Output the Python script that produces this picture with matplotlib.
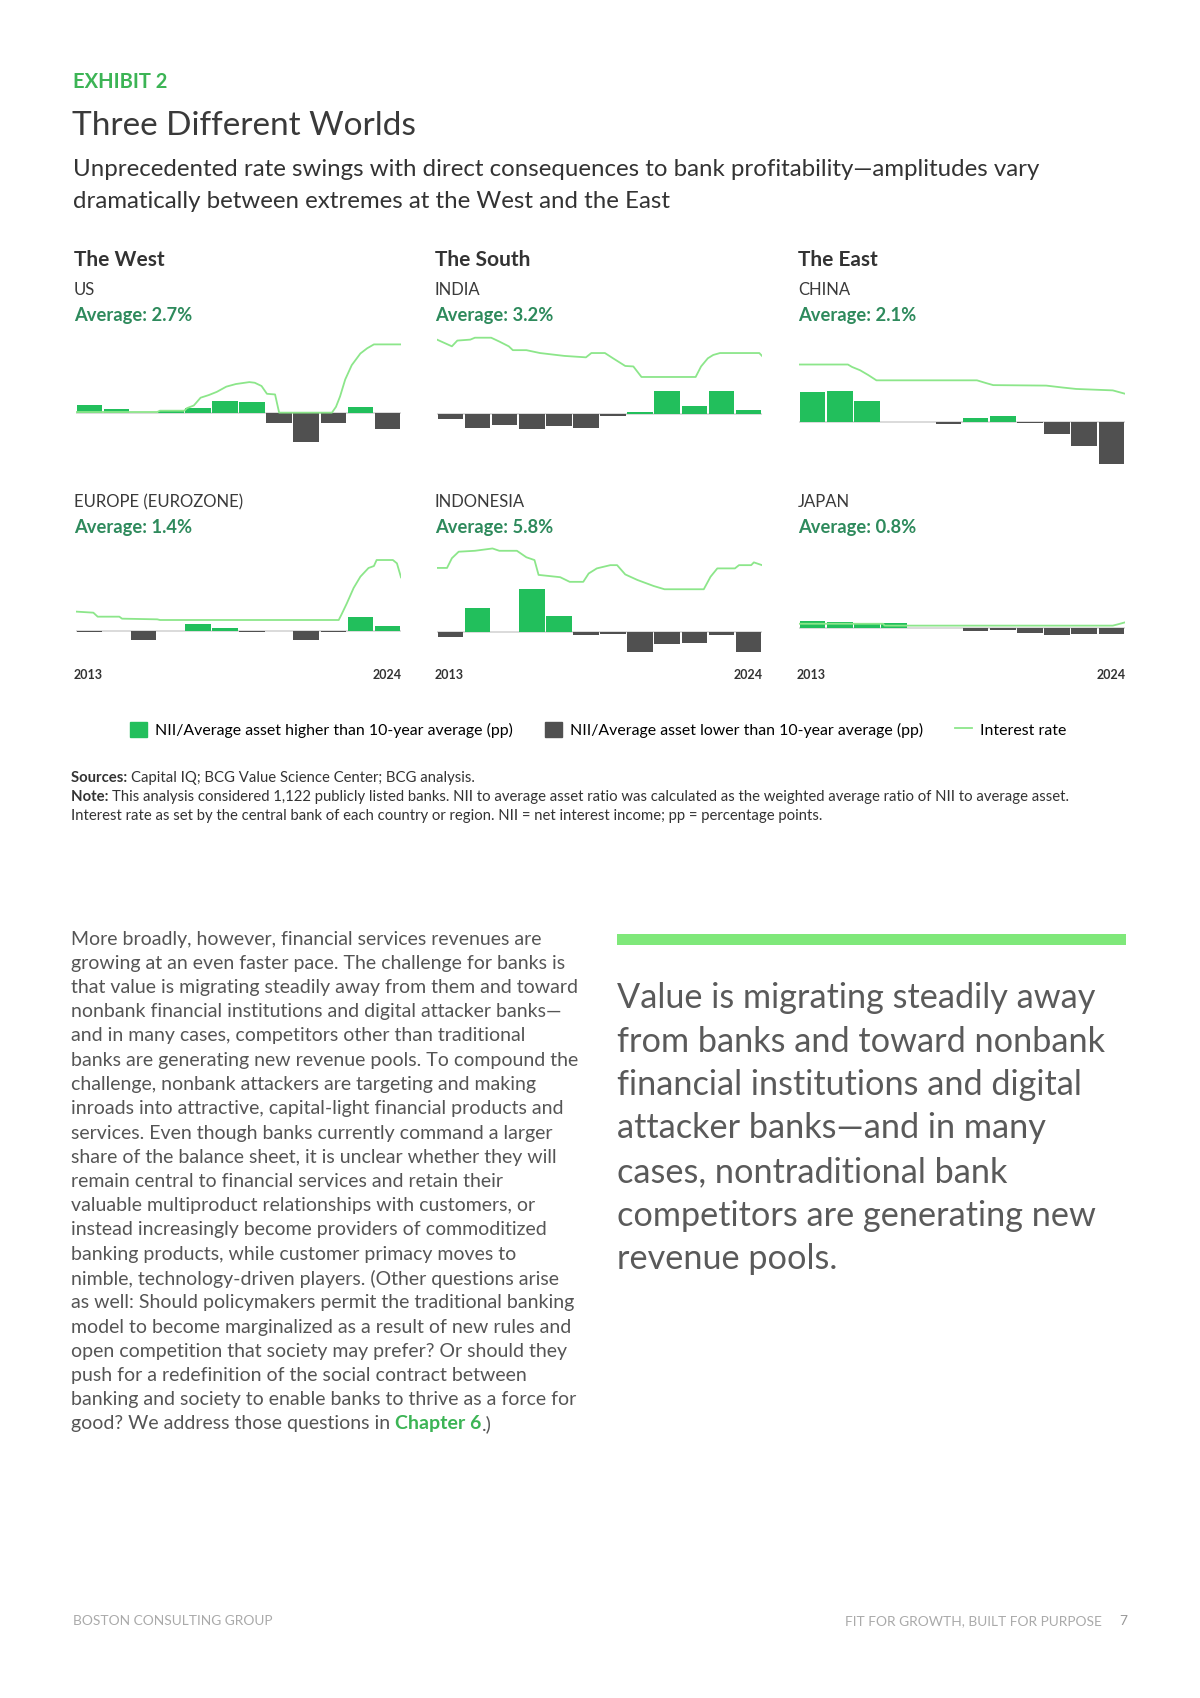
import numpy as np
import matplotlib
matplotlib.use('Agg')
import matplotlib.pyplot as plt
from matplotlib.patches import Patch
from matplotlib.lines import Line2D

plt.rcParams['font.family'] = ['Lato', 'DejaVu Sans']

W, H = 1200, 1698

GREEN_BAR = '#22bf5c'
DARK_BAR = '#505050'
RATE_LINE = '#8ce68a'
AVG_GREEN = '#2e8a5c'

years = np.arange(2013, 2025)

# NII/average asset minus 10-year average (pp), one bar per year
us_nii = [0.12, 0.07, 0.0, 0.04, 0.08, 0.18, 0.17, -0.14, -0.43, -0.15, 0.10, -0.24]
india_nii = [-0.07, -0.20, -0.16, -0.22, -0.17, -0.20, -0.03, 0.04, 0.35, 0.12, 0.35, 0.07]
china_nii = [0.45, 0.46, 0.31, 0.0, 0.0, -0.03, 0.05, 0.09, -0.02, -0.19, -0.36, -0.64]
europe_nii = [-0.02, 0.0, -0.14, 0.0, 0.10, 0.05, -0.02, 0.0, -0.13, -0.02, 0.21, 0.08]
indonesia_nii = [-0.085, 0.35, -0.01, 0.635, 0.24, -0.05, -0.04, -0.30, -0.19, -0.165, -0.055, -0.31]
japan_nii = [0.115, 0.09, 0.075, 0.075, 0.0, 0.0, -0.04, -0.03, -0.07, -0.10, -0.085, -0.085]

# policy rate (%), sampled at years since Jan 2013
us_rate_t = [0, 3.0, 3.1, 4.0, 4.1, 4.35, 4.6, 4.9, 5.2, 5.55, 5.9, 6.4, 6.6, 6.85, 7.05, 7.35, 7.5,
             9.45, 9.6, 9.75, 9.94, 10.18, 10.5, 10.75, 11.0, 12.0]
us_rate = [0.1, 0.1, 0.2, 0.2, 0.4, 0.6, 1.2, 1.4, 1.65, 2.05, 2.25, 2.4, 2.35, 2.1, 1.5, 1.45, 0.05,
           0.05, 0.5, 1.3, 2.6, 3.7, 4.6, 5.0, 5.3, 5.3]
india_rate_t = [0, 0.55, 0.75, 1.23, 1.4, 2.0, 2.3, 2.65, 2.8, 3.3, 3.8, 4.7, 5.5, 5.7, 6.2, 6.5, 6.95,
                7.25, 7.55, 9.55, 9.75, 10.0, 10.2, 10.45, 11.9, 12.0]
india_rate = [7.9, 7.2, 7.8, 7.9, 8.1, 8.1, 7.7, 7.2, 6.8, 6.8, 6.5, 6.2, 6.05, 6.5, 6.5, 5.95, 5.15,
              5.1, 4.0, 4.0, 5.1, 5.95, 6.3, 6.5, 6.5, 6.2]
china_rate_t = [0, 1.8, 1.95, 2.25, 2.55, 2.85, 6.55, 6.9, 7.15, 9.1, 9.7, 10.2, 11.55, 12.0]
china_rate = [6.0, 6.0, 5.75, 5.4, 4.9, 4.35, 4.35, 4.05, 3.85, 3.8, 3.6, 3.45, 3.3, 2.95]
europe_rate_t = [0, 0.64, 0.8, 1.6, 1.7, 3.0, 3.1, 9.7, 9.8, 10.0, 10.25, 10.5, 10.8, 11.0, 11.1,
                 11.7, 11.85, 12.0]
europe_rate = [0.63, 0.55, 0.25, 0.25, 0.1, 0.05, 0.0, 0.0, 0.4, 1.25, 2.4, 3.25, 3.9, 4.05, 4.5,
               4.5, 4.25, 3.2]
indonesia_rate_t = [0, 0.37, 0.55, 0.8, 1.4, 2.05, 2.3, 2.95, 3.3, 3.6, 3.75, 4.55, 4.9, 5.4, 5.6,
                    5.9, 6.4, 6.65, 6.95, 7.4, 8.0, 8.4, 9.85, 10.1, 10.35, 11.0, 11.15, 11.6, 11.7, 12.0]
indonesia_rate = [5.8, 5.8, 6.85, 7.55, 7.65, 7.9, 7.65, 7.65, 6.95, 6.65, 5.05, 4.8, 4.3, 4.3, 5.2,
                  5.75, 6.1, 6.1, 5.1, 4.5, 3.85, 3.5, 3.5, 4.85, 5.75, 5.75, 6.1, 6.1, 6.4, 6.1]
japan_rate_t = [0, 3.1, 3.15, 11.55, 11.75, 12.0]
japan_rate = [0.1, 0.1, -0.1, -0.1, 0.05, 0.25]

regions = ['The West', 'The South', 'The East']
countries = ['US', 'INDIA', 'CHINA', 'EUROPE (EUROZONE)', 'INDONESIA', 'JAPAN']
averages = ['Average: 2.7%', 'Average: 3.2%', 'Average: 2.1%',
            'Average: 1.4%', 'Average: 5.8%', 'Average: 0.8%']
nii_series = [us_nii, india_nii, china_nii, europe_nii, indonesia_nii, japan_nii]
rate_series = [(us_rate_t, us_rate), (india_rate_t, india_rate), (china_rate_t, china_rate),
               (europe_rate_t, europe_rate), (indonesia_rate_t, indonesia_rate),
               (japan_rate_t, japan_rate)]

# layout in pixels: chart x0, x1, top, bottom, bar baseline, rate zero, px per % of rate
BAR_PX = 66.7  # px per pp of NII
layout = [
    (76, 401, 325, 475, 413.3, 413.3, 13.0),
    (437, 762, 325, 475, 414.3, 415.3, 9.58),
    (799, 1125, 325, 475, 421.7, 422.0, 9.58),
    (76, 401, 535, 662, 631.0, 620.0, 13.33),
    (437, 762, 535, 662, 631.7, 621.7, 9.27),
    (799, 1125, 535, 662, 628.3, 624.7, 9.33),
]
label_x = [74, 435, 798, 74, 435, 798]

fig = plt.figure(figsize=(W / 100, H / 100), dpi=100)
fig.patch.set_facecolor('white')


def fx(x):
    return x / W


def fy(y):
    return 1 - y / H


def ftext(x, y, s, **kw):
    kw.setdefault('va', 'center')
    return fig.text(fx(x), fy(y), s, **kw)


# header
ftext(73, 82, 'EXHIBIT 2', fontsize=14.5, fontweight='bold', color='#3cb455')
ftext(72, 126, 'Three Different Worlds', fontsize=24, color='#3a3a3a')
ftext(73, 169, 'Unprecedented rate swings with direct consequences to bank profitability\u2014amplitudes vary',
      fontsize=17.3, color='#333333')
ftext(73, 201, 'dramatically between extremes at the West and the East', fontsize=17.3, color='#333333')

for i in range(6):
    x0, x1, top, bot, base, z0, spx = layout[i]
    row_y = 0 if i < 3 else 212
    if i < 3:
        ftext(label_x[i], 260, regions[i], fontsize=15, fontweight='bold', color='#333333')
    ftext(label_x[i], 290 + row_y, countries[i], fontsize=12, color='#3a3a3a')
    ftext(label_x[i], 315 + row_y, averages[i], fontsize=13.2, fontweight='bold', color=AVG_GREEN)

    ax = fig.add_axes([fx(x0), fy(bot), (x1 - x0) / W, (bot - top) / H])
    ax.set_xlim(2012.5, 2024.5)
    ax.set_ylim((base - bot) / BAR_PX, (base - top) / BAR_PX)
    vals = np.array(nii_series[i])
    colors = [GREEN_BAR if v > 0 else DARK_BAR for v in vals]
    ax.axhline(0, color='#d4d4d4', lw=1.2, zorder=1)
    ax.bar(years, vals, width=0.94, color=colors, zorder=2)
    ax.axis('off')

    ax2 = ax.twinx()
    ax2.set_ylim((z0 - bot) / spx, (z0 - top) / spx)
    t, r = rate_series[i]
    ax2.plot(2012.5 + np.array(t), r, color=RATE_LINE, lw=1.3, zorder=3)
    ax2.axis('off')

    if i >= 3:
        ftext(x0 - 2, 675, '2013', fontsize=9, fontweight='bold', color='#333333', ha='left')
        ftext(x1 + 1, 675, '2024', fontsize=9, fontweight='bold', color='#333333', ha='right')

# legend
handles = [Patch(color=GREEN_BAR), Patch(color=DARK_BAR), Line2D([], [], color=RATE_LINE, lw=1.3)]
labels = ['NII/Average asset higher than 10-year average (pp)',
          'NII/Average asset lower than 10-year average (pp)',
          'Interest rate']
fig.legend(handles, labels, loc='center', bbox_to_anchor=(fx(598), fy(730)), ncol=3, frameon=False,
           handlelength=1.1, handleheight=1.1, handletextpad=0.5, columnspacing=2.0,
           prop={'size': 11.4})

fig.canvas.draw()
renderer = fig.canvas.get_renderer()


def runs(x, y, parts, **common):
    for s, kw in parts:
        t = ftext(x, y, s, **{**common, **kw})
        x += t.get_window_extent(renderer).width


note_kw = dict(fontsize=10.75, color='#333333')
runs(71, 778, [('Sources: ', {'fontweight': 'bold'}),
               ('Capital IQ; BCG Value Science Center; BCG analysis.', {})], **note_kw)
runs(71, 797, [('Note: ', {'fontweight': 'bold'}),
               ('This analysis considered 1,122 publicly listed banks. NII to average asset ratio was '
                'calculated as the weighted average ratio of NII to average asset.', {})], **note_kw)
ftext(71, 816, 'Interest rate as set by the central bank of each country or region. '
      'NII = net interest income; pp = percentage points.', **note_kw)

# body text
body_lines = [
    'More broadly, however, financial services revenues are',
    'growing at an even faster pace. The challenge for banks is',
    'that value is migrating steadily away from them and toward',
    'nonbank financial institutions and digital attacker banks\u2014',
    'and in many cases, competitors other than traditional',
    'banks are generating new revenue pools. To compound the',
    'challenge, nonbank attackers are targeting and making',
    'inroads into attractive, capital-light financial products and',
    'services. Even though banks currently command a larger',
    'share of the balance sheet, it is unclear whether they will',
    'remain central to financial services and retain their',
    'valuable multiproduct relationships with customers, or',
    'instead increasingly become providers of commoditized',
    'banking products, while customer primacy moves to',
    'nimble, technology-driven players. (Other questions arise',
    'as well: Should policymakers permit the traditional banking',
    'model to become marginalized as a result of new rules and',
    'open competition that society may prefer? Or should they',
    'push for a redefinition of the social contract between',
    'banking and society to enable banks to thrive as a force for',
]
body_kw = dict(fontsize=14, color='#555555')
for k, line in enumerate(body_lines):
    ftext(71, 939 + k * 24.25, line, **body_kw)
runs(71, 939 + 20 * 24.25, [('good? We address those questions in ', {}),
                            ('Chapter 6', {'fontweight': 'bold', 'color': '#3cb455'}),
                            ('.)', {})], **body_kw)

# pull quote
fig.patches.append(plt.Rectangle((fx(617), fy(945)), (1126 - 617) / W, 11 / H,
                                 transform=fig.transFigure, color='#7fe87a', lw=0))
quote_lines = ['Value is migrating steadily away',
               'from banks and toward nonbank',
               'financial institutions and digital',
               'attacker banks\u2014and in many',
               'cases, nontraditional bank',
               'competitors are generating new',
               'revenue pools.']
for k, line in enumerate(quote_lines):
    ftext(617, 998 + k * 43.5, line, fontsize=24.7, color='#5a5a5a')

# footer
ftext(73, 1621, 'BOSTON CONSULTING GROUP', fontsize=9.9, color='#aaaaaa')
ftext(1102, 1621, 'FIT FOR GROWTH, BUILT FOR PURPOSE', fontsize=9.9, color='#aaaaaa', ha='right')
ftext(1127, 1621, '7', fontsize=9.9, color='#999999', ha='right')

fig.savefig('out.png', dpi=100, facecolor='white')
